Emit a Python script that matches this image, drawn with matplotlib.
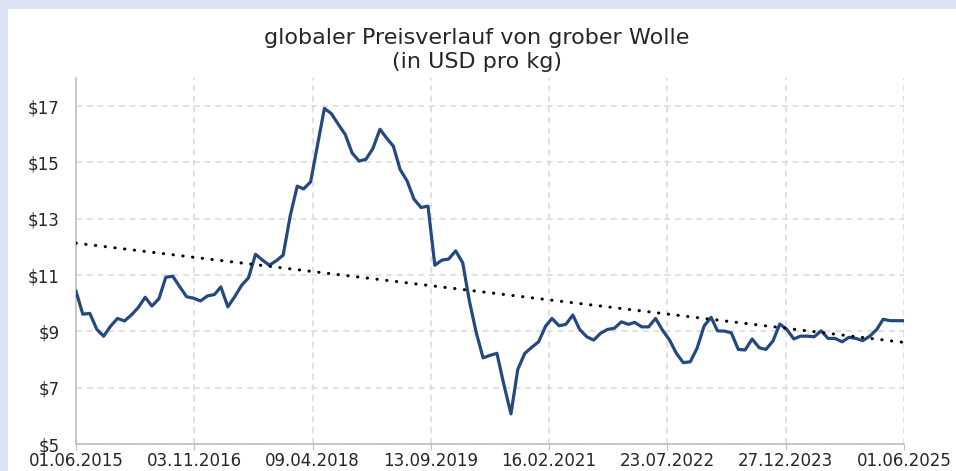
import numpy as np
import pandas as pd
import matplotlib
matplotlib.use("Agg")
import matplotlib.pyplot as plt
from matplotlib.patches import Rectangle

# monthly prices (USD per kg)
months = pd.date_range("2015-06-01", "2025-06-01", freq="MS")
price = [10.43, 9.61, 9.64, 9.07, 8.83, 9.19, 9.46, 9.37, 9.59, 9.84,
         10.21, 9.90, 10.16, 10.92, 10.96, 10.58, 10.23, 10.18, 10.08, 10.26,
         10.31, 10.58, 9.87, 10.23, 10.64, 10.90, 11.74, 11.53, 11.35, 11.51,
         11.71, 13.10, 14.16, 14.06, 14.31, 15.60, 16.92, 16.74, 16.36, 15.99,
         15.34, 15.05, 15.11, 15.50, 16.18, 15.88, 15.58, 14.75, 14.34, 13.70,
         13.40, 13.45, 11.35, 11.53, 11.57, 11.86, 11.44, 10.10, 8.95, 8.06,
         8.15, 8.22, 7.10, 6.07, 7.65, 8.22, 8.43, 8.63, 9.19, 9.46,
         9.20, 9.25, 9.58, 9.07, 8.81, 8.69, 8.93, 9.07, 9.11, 9.34,
         9.25, 9.32, 9.16, 9.16, 9.46, 9.05, 8.70, 8.22, 7.89, 7.92,
         8.40, 9.19, 9.50, 9.02, 9.01, 8.95, 8.36, 8.34, 8.73, 8.42,
         8.36, 8.66, 9.26, 9.07, 8.73, 8.83, 8.83, 8.81, 9.02, 8.75,
         8.75, 8.63, 8.79, 8.75, 8.67, 8.83, 9.07, 9.43, 9.38, 9.38,
         9.38]

xtick_labels = ["01.06.2015", "03.11.2016", "09.04.2018", "13.09.2019",
                "16.02.2021", "23.07.2022", "27.12.2023", "01.06.2025"]
yticks = [5, 7, 9, 11, 13, 15, 17]

x = np.array([d.toordinal() for d in months], dtype=float)
y = np.array(price)

# linear trendline (like excel)
k, d = np.polyfit(x, y, 1)

fig = plt.figure(figsize=(9.56, 4.71), dpi=100)
fig.patch.set_facecolor("#dae3f3")
fig.patches.append(Rectangle((8/956, 0), 1, 1 - 9/471, transform=fig.transFigure,
                             facecolor="white", edgecolor="none", zorder=-10))

ax = fig.add_axes([76/956, 1 - 444/471, 828/956, 366/471])
ax.set_facecolor("none")
ax.set_zorder(2)

ax.plot(x, y, color="#24497f", lw=2.3, zorder=3, solid_joinstyle="round")
ax.plot([x[0], x[-1]], [k*x[0] + d, k*x[-1] + d], color="black", lw=2.2,
        linestyle=(0, (0.1, 3.1)), dash_capstyle="round", zorder=4)

xt = np.linspace(x[0], x[-1], len(xtick_labels))
ax.set_xticks(xt)
ax.set_xticklabels(xtick_labels)
ax.set_xlim(x[0], x[-1])
ax.set_ylim(5, 18)
ax.set_yticks(yticks)
ax.set_yticklabels(["$%d" % v for v in yticks])

ax.grid(True, color="#d9d9d9", linestyle=(0, (4, 3)), lw=1.1)
for s in ["top", "right"]:
    ax.spines[s].set_visible(False)
for s in ["left", "bottom"]:
    ax.spines[s].set_color("#bfbfbf")
    ax.spines[s].set_linewidth(1.2)
ax.tick_params(axis="x", length=4, color="#bfbfbf", labelsize=12, pad=2)
ax.tick_params(axis="y", length=0, labelsize=12, pad=12)
for lab in ax.get_xticklabels() + ax.get_yticklabels():
    lab.set_color("#262626")

fig.text(0.4985, 1 - 38/471, "globaler Preisverlauf von grober Wolle",
         ha="center", va="center", fontsize=16, color="#262626")
fig.text(0.4985, 1 - 62/471, "(in USD pro kg)",
         ha="center", va="center", fontsize=16, color="#262626")

fig.savefig("out.png", dpi=100, facecolor=fig.get_facecolor())
